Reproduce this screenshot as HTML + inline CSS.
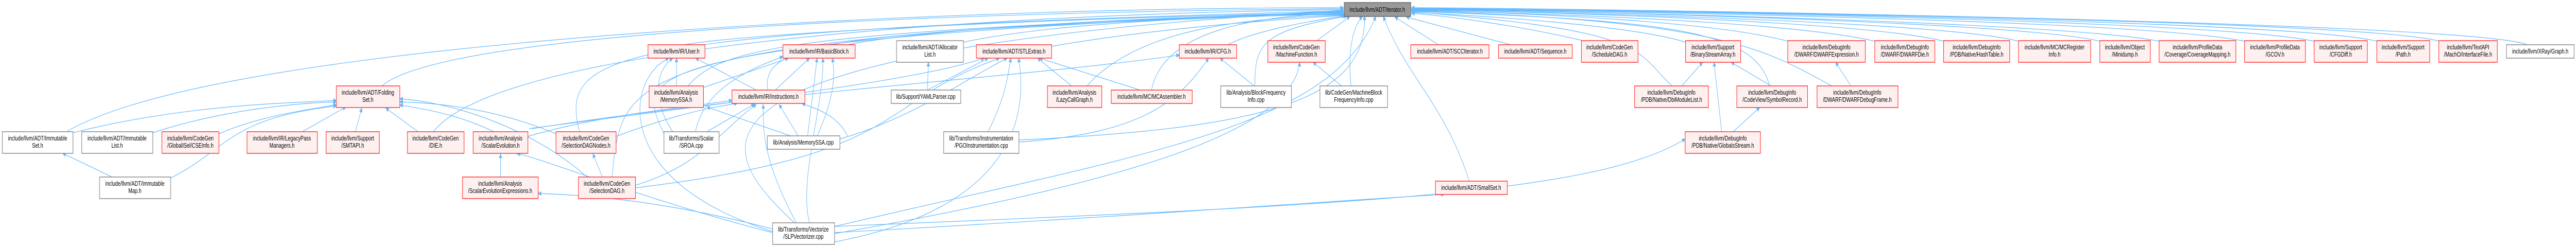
<!DOCTYPE html>
<html><head><meta charset="utf-8">
<style>
html,body{margin:0;padding:0;background:#fff;width:100%;height:100%;overflow:hidden;}
svg{display:block;width:100vw;height:100vh;}
text{font-family:"Liberation Sans",Arial,sans-serif;font-size:12.5px;fill:#000;text-anchor:middle;}
.r{stroke:#f33;fill:#fff0f0;stroke-width:1.5;}
.g{stroke:#888;fill:#fff;stroke-width:1.5;}
.m{stroke:#666;fill:#999;stroke-width:1.5;}
</style></head><body>
<svg viewBox="0 0 6778 480" preserveAspectRatio="none">
<defs><marker id="a" viewBox="0 0 10 10" refX="9" refY="5" markerWidth="9" markerHeight="9" orient="auto" markerUnits="userSpaceOnUse"><path d="M0,0 L10,5 L0,10 z" fill="#63b8ff"/></marker></defs>
<g fill="none" stroke="#63b8ff" stroke-width="1.2" marker-end="url(#a)">
<path d="M175 256 C600 70 2600 14 3535 15"/>
<path d="M1005 167 C1200 40 3000 20 3535 17"/>
<path d="M1140 256 C1350 60 3000 22 3535 19"/>
<path d="M1525 256 C1470 100 1600 60 3535 21"/>
<path d="M1610 344 C1640 150 1600 70 3535 23"/>
<path d="M1800 87 C2000 60 3000 30 3535 25"/>
<path d="M2230 87 C2400 60 3000 30 3535 27"/>
<path d="M1810 167 C1900 90 2100 60 3535 24"/>
<path d="M2020 175 C2000 80 2200 60 3535 26"/>
<path d="M1747 260 C1680 150 1600 80 3535 22"/>
<path d="M2090 433 C1900 300 1650 100 3535 20"/>
<path d="M2535 82 C2800 40 3300 30 3535 28"/>
<path d="M2767 90 C3000 60 3300 40 3537 30"/>
<path d="M3230 87 C3300 60 3450 40 3540 31"/>
<path d="M2860 167 C3000 50 3300 35 3537 29"/>
<path d="M3030 175 C3060 60 3300 30 3537 26"/>
<path d="M3302 167 C3300 80 3330 60 3545 31"/>
<path d="M2681 272 C3300 250 3600 200 3590 31"/>
<path d="M3465 79 L3552 32"/>
<path d="M3555 167 C3545 100 3560 50 3585 32"/>
<path d="M2196 440 C3000 300 3500 250 3620 32"/>
<path d="M3866 352 C3800 200 3700 150 3640 32"/>
<path d="M3785 87 L3670 33"/>
<path d="M3975 87 L3700 33"/>
<path d="M4165 79 C4000 50 3800 30 3714 26"/>
<path d="M4435 82 C4300 50 3900 30 3714 24"/>
<path d="M4400 167 C4300 100 4350 60 3714 23"/>
<path d="M4656 167 C4620 60 4400 40 3714 22"/>
<path d="M4820 167 C4650 100 4550 40 3714 21"/>
<path d="M4704 80 C4500 40 4000 25 3714 20"/>
<path d="M4933 80 C4700 40 4000 25 3714 20"/>
<path d="M5114 80 C4900 40 4000 22 3714 19"/>
<path d="M5311 80 C5100 40 4000 22 3714 19"/>
<path d="M5525 80 C5300 40 4000 20 3714 18"/>
<path d="M5681 80 C5400 40 4000 20 3714 18"/>
<path d="M5906 80 C5600 35 4000 20 3714 17"/>
<path d="M6089 80 C5800 35 4000 18 3714 17"/>
<path d="M6254 80 C6000 35 4000 18 3714 16"/>
<path d="M6417 80 C6200 35 4000 18 3714 16"/>
<path d="M6650 87 C6500 40 4000 15 3714 15"/>
<path d="M192 258 C500 200 800 200 885 195"/>
<path d="M402 258 C600 210 800 200 885 198"/>
<path d="M576 260 C700 220 850 210 885 203"/>
<path d="M795 256 L910 208"/>
<path d="M935 256 L952 210"/>
<path d="M1100 256 L1015 210"/>
<path d="M1300 256 C1200 220 1100 210 1052 204"/>
<path d="M1463 260 C1300 210 1150 200 1052 198"/>
<path d="M1545 344 C1400 250 1200 200 1052 192"/>
<path d="M449 346 C600 290 600 230 885 206"/>
<path d="M295 344 L165 298"/>
<path d="M1780 167 L1780 113"/>
<path d="M1990 175 L1830 113"/>
<path d="M1770 256 C1720 200 1720 140 1770 113"/>
<path d="M2033 450 C1600 350 1650 150 1760 113"/>
<path d="M1851 170 L2075 113"/>
<path d="M2040 175 L2130 113"/>
<path d="M1830 256 C1850 180 1950 140 2060 110"/>
<path d="M2125 264 L2150 113"/>
<path d="M2130 433 C2100 350 2170 200 2165 113"/>
<path d="M2150 264 C2190 200 2200 150 2190 113"/>
<path d="M1389 265 C1600 220 1800 210 1926 195"/>
<path d="M1621 265 C1750 230 1850 210 1940 201"/>
<path d="M1860 256 L1985 202"/>
<path d="M1672 360 C1850 320 1900 250 1990 203"/>
<path d="M2095 433 C2000 300 2010 250 2008 203"/>
<path d="M2100 264 L2050 203"/>
<path d="M2230 264 C2200 220 2140 210 2110 201"/>
<path d="M2080 264 L1860 208"/>
<path d="M1317 344 L1317 299"/>
<path d="M2033 452 C1700 390 1400 300 1360 299"/>
<path d="M2033 445 C1800 400 1600 380 1416 376"/>
<path d="M1585 344 L1560 299"/>
<path d="M2440 175 L2600 113"/>
<path d="M2820 167 L2730 113"/>
<path d="M3000 175 L2735 113"/>
<path d="M2600 256 C2650 180 2650 150 2660 113"/>
<path d="M1672 365 C2400 300 2300 200 2630 113"/>
<path d="M2196 470 C2700 400 2700 200 2680 113"/>
<path d="M2210 270 C2400 230 2550 150 2650 113"/>
<path d="M1392 250 C1900 200 2400 160 2590 113"/>
<path d="M2440 175 L2443 121"/>
<path d="M2681 276 C3000 260 3100 200 3180 113"/>
<path d="M3300 167 L3210 113"/>
<path d="M1400 250 C2000 180 2700 150 3103 107"/>
<path d="M3530 167 L3455 121"/>
<path d="M2196 454 C3000 350 3400 250 3420 121"/>
<path d="M2196 452 C3000 420 3500 390 3800 378"/>
<path d="M4425 167 L4480 121"/>
<path d="M4660 167 L4555 121"/>
<path d="M4530 256 L4510 121"/>
<path d="M4560 256 L4630 209"/>
<path d="M4870 167 L4830 121"/>
<path d="M2196 440 C3500 400 4200 380 4434 270"/>
</g>

<rect class="m" x="3537" y="5" width="175" height="27"/><text x="3624" y="23">include/llvm/ADT/iterator.h</text>

<rect class="r" x="1705" y="87" width="150" height="26"/><text x="1780" y="104">include/llvm/IR/User.h</text>
<rect class="r" x="2060" y="87" width="190" height="26"/><text x="2155" y="104">include/llvm/IR/BasicBlock.h</text>
<rect class="g" x="2359" y="79" width="176" height="42"/><text x="2447" y="96">include/llvm/ADT/Allocator</text><text x="2447" y="110">List.h</text>
<rect class="r" x="2569" y="87" width="198" height="26"/><text x="2668" y="104">include/llvm/ADT/STLExtras.h</text>
<rect class="r" x="3103" y="87" width="151" height="26"/><text x="3178" y="104">include/llvm/IR/CFG.h</text>
<rect class="r" x="3336" y="79" width="151" height="42"/><text x="3411" y="96">include/llvm/CodeGen</text><text x="3411" y="110">/MachineFunction.h</text>
<rect class="r" x="3712" y="87" width="206" height="26"/><text x="3815" y="104">include/llvm/ADT/SCCIterator.h</text>
<rect class="r" x="3943" y="87" width="194" height="26"/><text x="4040" y="104">include/llvm/ADT/Sequence.h</text>
<rect class="r" x="4161" y="79" width="149" height="42"/><text x="4235" y="96">include/llvm/CodeGen</text><text x="4235" y="110">/ScheduleDAG.h</text>
<rect class="r" x="4435" y="79" width="145" height="42"/><text x="4507" y="96">include/llvm/Support</text><text x="4507" y="110">/BinaryStreamArray.h</text>
<rect class="r" x="4704" y="79" width="204" height="42"/><text x="4806" y="96">include/llvm/DebugInfo</text><text x="4806" y="110">/DWARF/DWARFExpression.h</text>
<rect class="r" x="4933" y="79" width="158" height="42"/><text x="5012" y="96">include/llvm/DebugInfo</text><text x="5012" y="110">/DWARF/DWARFDie.h</text>
<rect class="r" x="5114" y="79" width="174" height="42"/><text x="5201" y="96">include/llvm/DebugInfo</text><text x="5201" y="110">/PDB/Native/HashTable.h</text>
<rect class="r" x="5311" y="79" width="190" height="42"/><text x="5406" y="96">include/llvm/MC/MCRegister</text><text x="5406" y="110">Info.h</text>
<rect class="r" x="5525" y="79" width="133" height="42"/><text x="5591" y="96">include/llvm/Object</text><text x="5591" y="110">/Minidump.h</text>
<rect class="r" x="5681" y="79" width="202" height="42"/><text x="5782" y="96">include/llvm/ProfileData</text><text x="5782" y="110">/Coverage/CoverageMapping.h</text>
<rect class="r" x="5906" y="79" width="160" height="42"/><text x="5986" y="96">include/llvm/ProfileData</text><text x="5986" y="110">/GCOV.h</text>
<rect class="r" x="6089" y="79" width="140" height="42"/><text x="6159" y="96">include/llvm/Support</text><text x="6159" y="110">/CFGDiff.h</text>
<rect class="r" x="6254" y="79" width="139" height="42"/><text x="6323" y="96">include/llvm/Support</text><text x="6323" y="110">/Path.h</text>
<rect class="r" x="6417" y="79" width="154" height="42"/><text x="6494" y="96">include/llvm/TextAPI</text><text x="6494" y="110">/MachO/InterfaceFile.h</text>
<rect class="g" x="6595" y="87" width="178" height="26"/><text x="6684" y="104">include/llvm/XRay/Graph.h</text>

<rect class="r" x="885" y="167" width="167" height="42"/><text x="968" y="184">include/llvm/ADT/Folding</text><text x="968" y="198">Set.h</text>
<rect class="r" x="1708" y="167" width="143" height="42"/><text x="1779" y="184">include/llvm/Analysis</text><text x="1779" y="198">/MemorySSA.h</text>
<rect class="r" x="1926" y="175" width="192" height="26"/><text x="2022" y="192">include/llvm/IR/Instructions.h</text>
<rect class="g" x="2345" y="175" width="183" height="26"/><text x="2436" y="192">lib/Support/YAMLParser.cpp</text>
<rect class="r" x="2756" y="167" width="143" height="42"/><text x="2827" y="184">include/llvm/Analysis</text><text x="2827" y="198">/LazyCallGraph.h</text>
<rect class="r" x="2924" y="175" width="213" height="26"/><text x="3030" y="192">include/llvm/MC/MCAssembler.h</text>
<rect class="g" x="3212" y="167" width="186" height="42"/><text x="3305" y="184">lib/Analysis/BlockFrequency</text><text x="3305" y="198">Info.cpp</text>
<rect class="g" x="3473" y="167" width="178" height="42"/><text x="3562" y="184">lib/CodeGen/MachineBlock</text><text x="3562" y="198">FrequencyInfo.cpp</text>
<rect class="r" x="4301" y="167" width="194" height="42"/><text x="4398" y="184">include/llvm/DebugInfo</text><text x="4398" y="198">/PDB/Native/DbiModuleList.h</text>
<rect class="r" x="4570" y="167" width="186" height="42"/><text x="4663" y="184">include/llvm/DebugInfo</text><text x="4663" y="198">/CodeView/SymbolRecord.h</text>
<rect class="r" x="4781" y="167" width="213" height="42"/><text x="4887" y="184">include/llvm/DebugInfo</text><text x="4887" y="198">/DWARF/DWARFDebugFrame.h</text>

<rect class="g" x="6" y="256" width="186" height="42"/><text x="99" y="273">include/llvm/ADT/Immutable</text><text x="99" y="287">Set.h</text>
<rect class="g" x="215" y="256" width="187" height="42"/><text x="308" y="273">include/llvm/ADT/Immutable</text><text x="308" y="287">List.h</text>
<rect class="r" x="426" y="256" width="150" height="42"/><text x="501" y="273">include/llvm/CodeGen</text><text x="501" y="287">/GlobalISel/CSEInfo.h</text>
<rect class="r" x="650" y="256" width="185" height="42"/><text x="742" y="273">include/llvm/IR/LegacyPass</text><text x="742" y="287">Managers.h</text>
<rect class="r" x="858" y="256" width="140" height="42"/><text x="928" y="273">include/llvm/Support</text><text x="928" y="287">/SMTAPI.h</text>
<rect class="r" x="1072" y="256" width="149" height="42"/><text x="1146" y="273">include/llvm/CodeGen</text><text x="1146" y="287">/DIE.h</text>
<rect class="r" x="1245" y="256" width="144" height="42"/><text x="1317" y="273">include/llvm/Analysis</text><text x="1317" y="287">/ScalarEvolution.h</text>
<rect class="r" x="1463" y="256" width="158" height="42"/><text x="1542" y="273">include/llvm/CodeGen</text><text x="1542" y="287">/SelectionDAGNodes.h</text>
<rect class="g" x="1747" y="256" width="145" height="42"/><text x="1819" y="273">lib/Transforms/Scalar</text><text x="1819" y="287">/SROA.cpp</text>
<rect class="g" x="2019" y="264" width="191" height="26"/><text x="2114" y="281">lib/Analysis/MemorySSA.cpp</text>
<rect class="g" x="2483" y="256" width="198" height="42"/><text x="2582" y="273">lib/Transforms/Instrumentation</text><text x="2582" y="287">/PGOInstrumentation.cpp</text>
<rect class="r" x="4434" y="256" width="198" height="42"/><text x="4533" y="273">include/llvm/DebugInfo</text><text x="4533" y="287">/PDB/Native/GlobalsStream.h</text>

<rect class="g" x="262" y="344" width="187" height="42"/><text x="355" y="361">include/llvm/ADT/Immutable</text><text x="355" y="375">Map.h</text>
<rect class="r" x="1217" y="344" width="199" height="42"/><text x="1316" y="361">include/llvm/Analysis</text><text x="1316" y="375">/ScalarEvolutionExpressions.h</text>
<rect class="r" x="1522" y="344" width="150" height="42"/><text x="1597" y="361">include/llvm/CodeGen</text><text x="1597" y="375">/SelectionDAG.h</text>
<rect class="r" x="3777" y="352" width="189" height="26"/><text x="3871" y="369">include/llvm/ADT/SmallSet.h</text>

<rect class="g" x="2033" y="433" width="163" height="42"/><text x="2114" y="450">lib/Transforms/Vectorize</text><text x="2114" y="464">/SLPVectorizer.cpp</text>
</svg>
</body></html>
